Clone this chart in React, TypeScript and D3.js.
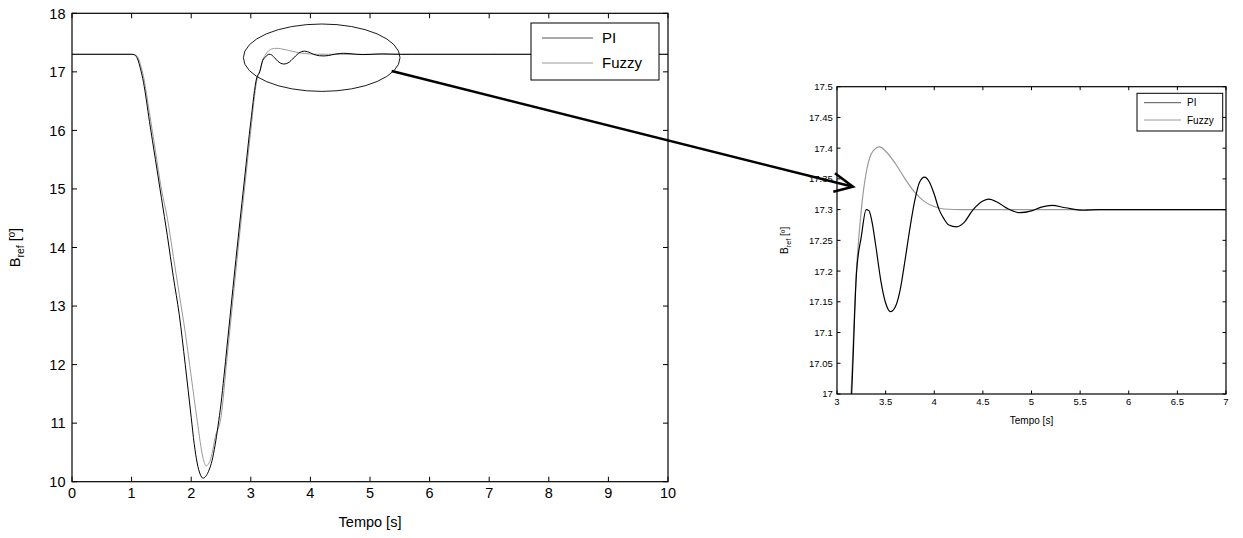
import React from "react"
import * as d3 from "d3"

// PI controller response
const piTime = [
  0, 1.0, 1.05, 1.1, 1.15, 1.2, 1.3, 1.4, 1.5, 1.6, 1.7, 1.8, 1.9, 2.0, 2.05, 2.1, 2.15, 2.2, 2.25, 2.3,
  2.35, 2.4, 2.45, 2.5, 2.55, 2.6, 2.7, 2.8, 2.9, 3.0, 3.1, 3.15, 3.2, 3.25, 3.3, 3.33, 3.36, 3.4, 3.45,
  3.5, 3.55, 3.6, 3.65, 3.7, 3.75, 3.8, 3.85, 3.9, 3.95, 4.0, 4.05, 4.1, 4.15, 4.23, 4.3, 4.4, 4.5, 4.56,
  4.65, 4.75, 4.88, 5.0, 5.1, 5.21, 5.35, 5.53, 5.7, 7.0, 10.0,
]
const piValue = [
  17.3, 17.3, 17.29, 17.22, 17.05, 16.82, 16.15, 15.5, 14.85, 14.2, 13.5, 12.85, 12.0, 11.1, 10.65, 10.32,
  10.13, 10.06, 10.1, 10.2, 10.36, 10.62, 10.95, 11.33, 11.8, 12.3, 13.3, 14.28, 15.22, 16.15, 16.9, 17.0,
  17.196, 17.256, 17.3, 17.298, 17.28, 17.24, 17.185, 17.148, 17.134, 17.142, 17.17, 17.218, 17.27,
  17.315, 17.345, 17.353, 17.345, 17.325, 17.3, 17.285, 17.275, 17.272, 17.278, 17.3, 17.314, 17.317,
  17.312, 17.302, 17.295, 17.298, 17.304, 17.307, 17.303, 17.299, 17.3, 17.3, 17.3,
]

// Fuzzy controller response
const fuzzyTime = [
  0, 1.0, 1.05, 1.1, 1.15, 1.2, 1.3, 1.4, 1.5, 1.6, 1.7, 1.8, 1.9, 2.0, 2.1, 2.2, 2.25, 2.3, 2.35, 2.4,
  2.5, 2.6, 2.7, 2.8, 2.9, 3.0, 3.1, 3.15, 3.2, 3.25, 3.3, 3.35, 3.4, 3.44, 3.5, 3.6, 3.7, 3.8, 3.9, 4.0,
  4.1, 4.3, 10.0,
]
const fuzzyValue = [
  17.3, 17.3, 17.295, 17.26, 17.12, 16.92, 16.3, 15.65, 15.0, 14.5, 13.85, 13.2, 12.55, 11.8, 11.05,
  10.4, 10.27, 10.32, 10.48, 10.75, 11.1, 12.1, 13.1, 14.1, 15.05, 16.0, 16.85, 17.02, 17.2, 17.3, 17.36,
  17.39, 17.4, 17.402, 17.395, 17.375, 17.35, 17.328, 17.313, 17.305, 17.301, 17.3, 17.3,
]

const mainXTicks = [0, 1, 2, 3, 4, 5, 6, 7, 8, 9, 10]
const mainYTicks = [10, 11, 12, 13, 14, 15, 16, 17, 18]
const zoomXTicks = [3, 3.5, 4, 4.5, 5, 5.5, 6, 6.5, 7]
const zoomXLabels = ["3", "3.5", "4", "4.5", "5", "5.5", "6", "6.5", "7"]
const zoomYTicks = [17, 17.05, 17.1, 17.15, 17.2, 17.25, 17.3, 17.35, 17.4, 17.45, 17.5]
const zoomYLabels = ["17", "17.05", "17.1", "17.15", "17.2", "17.25", "17.3", "17.35", "17.4", "17.45", "17.5"]
const seriesNames = ["PI", "Fuzzy"]

const FONT = "'Liberation Sans', Arial, Helvetica, sans-serif"
const PI_COLOR = "#000000"
const FUZZY_COLOR = "#9a9a9a"

type PlotProps = {
  id: string
  left: number
  right: number
  top: number
  bottom: number
  xDomain: [number, number]
  yDomain: [number, number]
  xTicks: number[]
  xLabels: string[]
  yTicks: number[]
  yLabels: string[]
  fontSize: number
  tickLen: number
  lineWidth: number
  labelFont: number
  xLabelY: number
  yLabelX: number
  legend: { x: number; y: number; w: number; h: number; fontSize: number; lineX0: number; lineX1: number; rows: number[] }
}

function Plot(p: PlotProps) {
  const x = d3.scaleLinear().domain(p.xDomain).range([p.left, p.right])
  const y = d3.scaleLinear().domain(p.yDomain).range([p.bottom, p.top])
  const line = d3
    .line<[number, number]>()
    .x((d) => x(d[0]))
    .y((d) => y(d[1]))
    .curve(d3.curveMonotoneX)

  const piPts = piTime.map((t, i) => [t, piValue[i]] as [number, number])
  const fuzzyPts = fuzzyTime.map((t, i) => [t, fuzzyValue[i]] as [number, number])
  const midY = (p.top + p.bottom) / 2
  const lg = p.legend

  return (
    <g fontFamily={FONT}>
      <defs>
        <clipPath id={p.id + "-clip"}>
          <rect x={p.left} y={p.top} width={p.right - p.left} height={p.bottom - p.top} />
        </clipPath>
      </defs>
      <rect x={p.left} y={p.top} width={p.right - p.left} height={p.bottom - p.top} fill="#fff" />
      <g clipPath={`url(#${p.id}-clip)`} fill="none">
        <path d={line(fuzzyPts) || ""} stroke={FUZZY_COLOR} strokeWidth={p.lineWidth} />
        <path d={line(piPts) || ""} stroke={PI_COLOR} strokeWidth={p.lineWidth} />
      </g>

      {/* ticks */}
      <g stroke="#000" strokeWidth={1}>
        {p.xTicks.map((t) => (
          <g key={"xt" + t}>
            <line x1={x(t)} x2={x(t)} y1={p.bottom} y2={p.bottom - p.tickLen} />
            <line x1={x(t)} x2={x(t)} y1={p.top} y2={p.top + p.tickLen} />
          </g>
        ))}
        {p.yTicks.map((t) => (
          <g key={"yt" + t}>
            <line x1={p.left} x2={p.left + p.tickLen} y1={y(t)} y2={y(t)} />
            <line x1={p.right} x2={p.right - p.tickLen} y1={y(t)} y2={y(t)} />
          </g>
        ))}
      </g>
      <rect
        x={p.left}
        y={p.top}
        width={p.right - p.left}
        height={p.bottom - p.top}
        fill="none"
        stroke="#000"
        strokeWidth={1.2}
      />

      {/* tick labels */}
      <g fontSize={p.fontSize} fill="#000">
        {p.xTicks.map((t, i) => (
          <text key={"xl" + t} x={x(t)} y={p.bottom + p.fontSize * 1.15} textAnchor="middle">
            {p.xLabels[i]}
          </text>
        ))}
        {p.yTicks.map((t, i) => (
          <text key={"yl" + t} x={p.left - p.fontSize * 0.45} y={y(t) + p.fontSize * 0.36} textAnchor="end">
            {p.yLabels[i]}
          </text>
        ))}
      </g>

      {/* axis labels */}
      <text x={(p.left + p.right) / 2} y={p.xLabelY} fontSize={p.labelFont} textAnchor="middle">
        Tempo [s]
      </text>
      <text
        transform={`translate(${p.yLabelX},${midY}) rotate(-90)`}
        fontSize={p.labelFont}
        textAnchor="middle"
      >
        B
        <tspan fontSize={p.labelFont * 0.72} dy={p.labelFont * 0.3}>
          ref
        </tspan>
        <tspan dy={-p.labelFont * 0.3}> [º]</tspan>
      </text>

      {/* legend */}
      <rect x={lg.x} y={lg.y} width={lg.w} height={lg.h} fill="#fff" stroke="#000" strokeWidth={1} />
      {seriesNames.map((name, i) => (
        <g key={name}>
          <line
            x1={lg.lineX0}
            x2={lg.lineX1}
            y1={lg.rows[i]}
            y2={lg.rows[i]}
            stroke={i === 0 ? "#555" : FUZZY_COLOR}
            strokeWidth={1}
          />
          <text x={lg.lineX1 + lg.fontSize * 0.6} y={lg.rows[i] + lg.fontSize * 0.36} fontSize={lg.fontSize}>
            {name}
          </text>
        </g>
      ))}
    </g>
  )
}

export default function App() {
  return (
    <svg
      width={1243}
      height={538}
      style={{ position: "absolute", left: 0, top: 0, background: "#fff" }}
    >
      <Plot
        id="main"
        left={72}
        right={668}
        top={13.3}
        bottom={481.7}
        xDomain={[0, 10]}
        yDomain={[10, 18]}
        xTicks={mainXTicks}
        xLabels={mainXTicks.map(String)}
        yTicks={mainYTicks}
        yLabels={mainYTicks.map(String)}
        fontSize={14.5}
        tickLen={5}
        lineWidth={1}
        labelFont={14.5}
        xLabelY={527}
        yLabelX={20}
        legend={{ x: 531, y: 23, w: 128, h: 57, fontSize: 15, lineX0: 542, lineX1: 593, rows: [38, 63] }}
      />
      <Plot
        id="zoom"
        left={837}
        right={1226}
        top={86.7}
        bottom={394}
        xDomain={[3, 7]}
        yDomain={[17, 17.5]}
        xTicks={zoomXTicks}
        xLabels={zoomXLabels}
        yTicks={zoomYTicks}
        yLabels={zoomYLabels}
        fontSize={9.5}
        tickLen={3.5}
        lineWidth={1.2}
        labelFont={10}
        xLabelY={424}
        yLabelX={788}
        legend={{ x: 1137, y: 93.3, w: 85.7, h: 37.7, fontSize: 10, lineX0: 1144, lineX1: 1181, rows: [102.7, 120] }}
      />

      {/* zoom indicator */}
      <ellipse cx={321.7} cy={57.7} rx={78.3} ry={33.7} fill="none" stroke="#000" strokeWidth={0.9} />
      <line x1={391.7} y1={71} x2={852} y2={186.5} stroke="#000" strokeWidth={2.5} />
      <polyline
        points="835,173.3 853,186.7 833.3,191.7"
        fill="none"
        stroke="#000"
        strokeWidth={2.5}
      />
    </svg>
  )
}
